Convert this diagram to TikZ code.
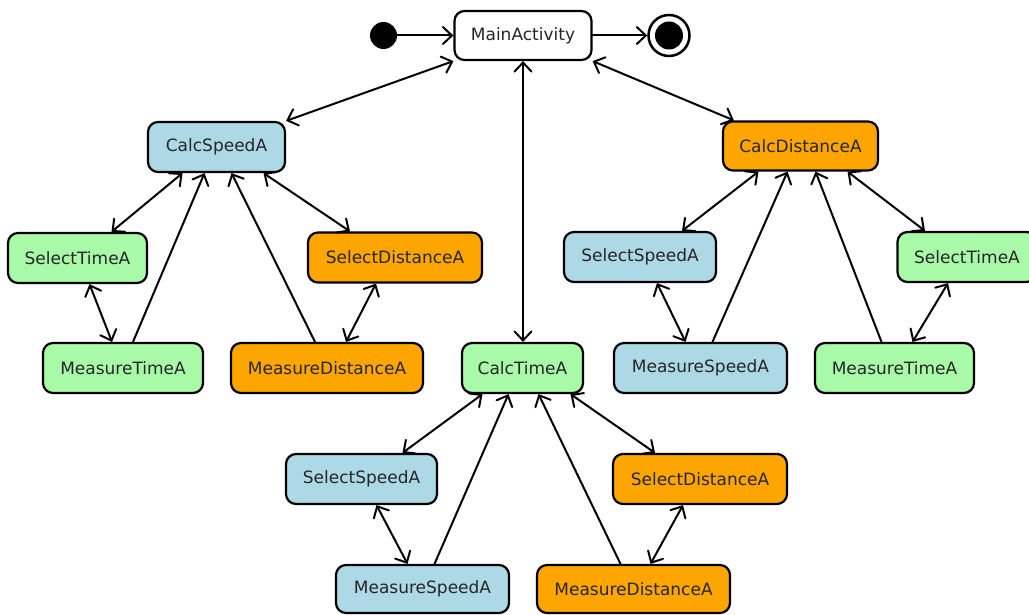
\documentclass[tikz,border=0pt]{standalone}
\usepackage{fontspec}
\setmainfont{DejaVu Sans}
\usetikzlibrary{arrows.meta}
\definecolor{speedcol}{RGB}{173,216,230}
\definecolor{timecol}{RGB}{168,250,168}
\definecolor{distcol}{RGB}{255,165,0}
\tikzset{
  state/.style={draw=black, line width=2.2pt, rounded corners=10pt, inner sep=0pt,
    minimum height=50pt, font=\fontsize{17}{20}\selectfont, text=black!85},
  speed/.style={state, fill=speedcol},
  timest/.style={state, fill=timecol},
  dist/.style={state, fill=distcol},
  link/.style={line width=2pt, line cap=round, >={Straight Barb[length=9pt,width=17pt,line cap=round]}},
}
\begin{document}
\begin{tikzpicture}[x=1pt, y=-1pt]
\useasboundingbox (0,0) rectangle (1029,615);

% start and end markers
\node[circle, fill=black, minimum size=27pt, inner sep=0pt] (init) at (383.5,35.5) {};
\node[state, fill=white, minimum width=137pt, minimum height=49pt] (main) at (523,35.5) {MainActivity};
\node[circle, draw=black, line width=2.5pt, minimum size=41pt, inner sep=0pt] (final) at (669,35.5) {};
\fill[black] (final.center) circle[radius=14pt];

% speed branch
\node[speed, minimum width=137pt] (cs) at (216.5,147) {CalcSpeedA};
\node[timest, minimum width=139pt] (sta) at (77.5,258) {SelectTimeA};
\node[timest, minimum width=160pt] (mta) at (123,368) {MeasureTimeA};
\node[dist, minimum width=174pt] (sda) at (395,257.5) {SelectDistanceA};
\node[dist, minimum width=192pt] (mda) at (327,368) {MeasureDistanceA};

% time branch
\node[timest, minimum width=121pt] (ct) at (522.5,368) {CalcTimeA};
\node[speed, minimum width=151pt] (ssc) at (361.5,479) {SelectSpeedA};
\node[speed, minimum width=173pt, minimum height=48pt] (msc) at (422.5,589) {MeasureSpeedA};
\node[dist, minimum width=174pt] (sdc) at (700,479) {SelectDistanceA};
\node[dist, minimum width=193pt, minimum height=48pt] (mdc) at (633.5,589) {MeasureDistanceA};

% distance branch
\node[dist, minimum width=155pt, minimum height=49pt] (cd) at (800.5,146) {CalcDistanceA};
\node[speed, minimum width=152pt] (ssb) at (640,257) {SelectSpeedA};
\node[speed, minimum width=173pt] (msb) at (700.5,368) {MeasureSpeedA};
\node[timest, minimum width=139pt] (stb) at (967,257) {SelectTimeA};
\node[timest, minimum width=159pt] (mtb) at (894.5,368) {MeasureTimeA};

% top level flow
\draw[link, ->] (init) -- (main);
\draw[link, ->] (main) -- (final);
\draw[link, <->] (main.south west) -- (cs.north east);
\draw[link, <->] (main.south) -- (main.south |- ct.north);
\draw[link, <->] (main.south east) -- ([xshift=12pt]cd.north west);

% speed branch connectors
\draw[link, <->] ([xshift=-34pt]cs.south) -- ([xshift=34pt]sta.north);
\draw[link, ->] ([xshift=10pt]mta.north) -- ([xshift=-12pt]cs.south);
\draw[link, ->] ([xshift=-12pt]mda.north) -- ([xshift=15pt]cs.south);
\draw[link, <->] ([xshift=47pt]cs.south) -- ([xshift=-45pt]sda.north);
\draw[link, <->] ([xshift=12pt]sta.south) -- ([xshift=-11pt]mta.north);
\draw[link, <->] ([xshift=-19pt]sda.south) -- ([xshift=19pt]mda.north);

% time branch connectors
\draw[link, <->] ([xshift=-40pt]ct.south) -- ([xshift=41pt]ssc.north);
\draw[link, ->] ([xshift=12pt]msc.north) -- ([xshift=-14pt]ct.south);
\draw[link, ->] ([xshift=-13pt]mdc.north) -- ([xshift=16pt]ct.south);
\draw[link, <->] ([xshift=48pt]ct.south) -- ([xshift=-45pt]sdc.north);
\draw[link, <->] ([xshift=15pt]ssc.south) -- ([xshift=-15pt]msc.north);
\draw[link, <->] ([xshift=-17pt]sdc.south) -- ([xshift=17pt]mdc.north);

% distance branch connectors
\draw[link, <->] ([xshift=-42pt]cd.south) -- ([xshift=42pt]ssb.north);
\draw[link, ->] ([xshift=12pt]msb.north) -- ([xshift=-13pt]cd.south);
\draw[link, ->] ([xshift=-13pt]mtb.north) -- ([xshift=15pt]cd.south);
\draw[link, <->] ([xshift=47pt]cd.south) -- ([xshift=-42pt]stb.north);
\draw[link, <->] ([xshift=17pt]ssb.south) -- ([xshift=-15pt]msb.north);
\draw[link, <->] ([xshift=-19pt]stb.south) -- ([xshift=18pt]mtb.north);
\end{tikzpicture}
\end{document}
